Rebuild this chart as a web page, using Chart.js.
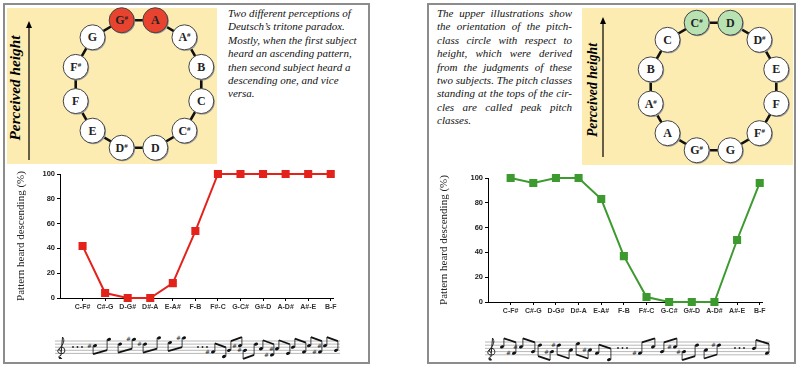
<!DOCTYPE html>
<html>
<head>
<meta charset="utf-8">
<script src="https://cdn.jsdelivr.net/npm/chart.js"></script>
<style>
  body { margin: 0; background: #fff; width: 800px; height: 370px; position: relative; overflow: hidden; font-family: "Liberation Serif", serif; }
  .panel { position: absolute; border: 2px solid #8c8c8c; background: #fff; box-sizing: border-box; }
  .txt { position: absolute; font-style: italic; font-size: 11px; line-height: 13.4px; color: #111; }
  .txt div { white-space: nowrap; }
  #txtR div { text-align: justify; text-align-last: justify; }
  #txtR div:last-child { text-align-last: left; }
  .chartbox { position: absolute; width: 340px; height: 150px; }
  #art { position: absolute; left: 0; top: 0; }
</style>
</head>
<body>
<div class="panel" style="left:3px;top:3px;width:367px;height:361px"></div>
<div class="panel" style="left:427px;top:3px;width:369px;height:361px"></div>
<svg id="art" width="800" height="370"></svg>
<div class="txt" id="txtL" style="left:228px;top:7px;width:140px"></div>
<div class="txt" id="txtR" style="left:437px;top:7px;width:135px"></div>
<div class="chartbox" style="left:6px;top:166px"><canvas id="chartL"></canvas></div>
<div class="chartbox" style="left:434px;top:170px"><canvas id="chartR"></canvas></div>

<script>
// data
const pairs = ['C-F#', 'C#-G', 'D-G#', 'D#-A', 'E-A#', 'F-B', 'F#-C', 'G-C#', 'G#-D', 'A-D#', 'A#-E', 'B-F'];
const heardLeft = [42, 4, 0, 0, 12, 54, 100, 100, 100, 100, 100, 100];
const heardRight = [100, 96, 100, 100, 83, 37, 4, 0, 0, 0, 50, 96];
const yTicks = [0, 20, 40, 60, 80, 100];
const yTitle = 'Pattern heard descending (%)';

// pitch class circles, clockwise from top-left
const circleLeft = ['G#', 'A', 'A#', 'B', 'C', 'C#', 'D', 'D#', 'E', 'F', 'F#', 'G'];
const circleRight = ['C#', 'D', 'D#', 'E', 'F', 'F#', 'G', 'G#', 'A', 'A#', 'B', 'C'];
const peakLeft = ['G#', 'A'];
const peakRight = ['C#', 'D'];

const textLeft = ['Two different perceptions of', 'Deutsch\u2019s tritone paradox.', 'Mostly, when the first subject',
  'heard an ascending pattern,', 'then second subject heard a', 'descending one, and vice', 'versa.'];
const textRight = ['The upper illustrations show', 'the orientation of the pitch-', 'class circle with respect to',
  'height, which were derived', 'from the judgments of these', 'two subjects. The pitch classes',
  'standing at the tops of the cir-', 'cles are called peak pitch', 'classes.'];

document.getElementById('txtL').innerHTML = textLeft.map(t => '<div>' + t + '</div>').join('');
document.getElementById('txtR').innerHTML = textRight.map(t => '<div>' + t + '</div>').join('');

// ---------- illustrations ----------
const out = [];

function pitchCircle(names, peaks, peakColor, cx, cy, box, arrowX, arrowTop, arrowBottom, lblX, lblY, lblLen) {
  out.push(`<rect x="${box[0]}" y="${box[1]}" width="${box[2]}" height="${box[3]}" fill="#fcecb2"/>`);
  // arrow
  out.push(`<line x1="${arrowX}" y1="${arrowBottom}" x2="${arrowX}" y2="${arrowTop + 5}" stroke="#000" stroke-width="1.2"/>`);
  out.push(`<polygon points="${arrowX - 3},${arrowTop + 7} ${arrowX},${arrowTop} ${arrowX + 3},${arrowTop + 7}" fill="#000"/>`);
  out.push(`<text transform="translate(${lblX},${lblY}) rotate(-90)" text-anchor="middle" font-family="Liberation Serif" font-style="italic" font-weight="bold" font-size="15" textLength="${lblLen}" lengthAdjust="spacingAndGlyphs" dy="5">Perceived height</text>`);
  const pts = names.map((n, i) => {
    const a = (-15 + 30 * i) * Math.PI / 180;
    return [cx + 65 * Math.sin(a), cy - 66 * Math.cos(a)];
  });
  out.push(`<polygon points="${pts.map(p => p.join(',')).join(' ')}" fill="none" stroke="#111" stroke-width="2.6"/>`);
  names.forEach((n, i) => {
    const [x, y] = pts[i];
    const fill = peaks.includes(n) ? peakColor : '#fff';
    out.push(`<circle cx="${x + 1}" cy="${y + 1}" r="12.5" fill="#9a9a9a"/>`);
    out.push(`<circle cx="${x}" cy="${y}" r="12.5" fill="${fill}" stroke="#444" stroke-width="1"/>`);
    let label = n[0];
    if (n.length > 1) label += '<tspan font-size="7" dy="-4">#</tspan>';
    out.push(`<text x="${x}" y="${y + 4}" text-anchor="middle" font-family="Liberation Serif" font-weight="bold" font-size="12" fill="#222">${label}</text>`);
  });
}

pitchCircle(circleLeft, peakLeft, '#e8432f', 138.5, 84, [7, 8, 210, 156], 29, 21, 160, 15, 88, 105);
pitchCircle(circleRight, peakRight, '#b9e2b3', 713.5, 86.5, [582, 8, 211, 157], 603, 17, 157, 592, 90, 94);

// ---------- music notation ----------
function stepOf(l) { return 'CDEFGAB'.indexOf(l); }

function drawStaff(x0, x1, top, sp) {
  for (let k = 0; k < 5; k++) {
    out.push(`<line x1="${x0}" y1="${top + k * sp}" x2="${x1}" y2="${top + k * sp}" stroke="#9a9a9a" stroke-width="0.7"/>`);
  }
  // simple treble clef
  const x = x0 + 6, b = top + 4 * sp;
  out.push(`<path d="M${x + 1},${b + 5} C${x - 3},${b + 6} ${x - 3},${b + 2} ${x},${b + 2} L${x + 1.5},${top - 4} C${x + 4},${top - 1} ${x + 3},${top + sp} ${x - 2},${top + 2.5 * sp} C${x - 5},${top + 3.5 * sp} ${x - 2},${b + 1} ${x + 2},${b} C${x + 5},${b - 1} ${x + 4},${top + 2 * sp} ${x + 1},${top + 2 * sp} C${x - 2},${top + 2 * sp} ${x - 2},${top + 3.2 * sp} ${x},${top + 3.3 * sp}" fill="none" stroke="#222" stroke-width="1"/>`);
  out.push(`<circle cx="${x - 1}" cy="${b + 4.5}" r="1.2" fill="#222"/>`);
}

function drawDots(x, y, n) {
  for (let k = 0; k < n; k++) out.push(`<circle cx="${x + k * 4.5}" cy="${y}" r="0.9" fill="#222"/>`);
}

function drawPair(name, up, xa, xb, top, sp) {
  const [a, b] = name.split('-');
  const la = stepOf(a[0]), lb = stepOf(b[0]);
  let sa = la <= 2 ? la + 7 : la;
  let sb = up ? sa + ((lb - la + 7) % 7) : sa - ((la - lb + 7) % 7);
  const bottom = top + 4 * sp;
  const ya = bottom - (sa - 2) * sp / 2, yb = bottom - (sb - 2) * sp / 2;
  const down = (sa + sb) / 2 >= 6;
  const heads = [[xa, ya, a], [xb, yb, b]];
  heads.forEach(([x, y, n]) => {
    out.push(`<ellipse cx="${x}" cy="${y}" rx="2.1" ry="1.5" transform="rotate(-20 ${x} ${y})" fill="#111"/>`);
    if (n.length > 1) out.push(`<text x="${x - 5.5}" y="${y + 2}" font-family="DejaVu Sans" font-size="6" text-anchor="middle" fill="#222">#</text>`);
  });
  let e1, e2, sx1, sx2;
  const len = 8.5;
  if (down) {
    sx1 = xa - 1.9; sx2 = xb - 1.9;
    e1 = ya + len; e2 = yb + len;
    const m = Math.max(e1, e2); e1 = Math.max(e1, m - 4); e2 = Math.max(e2, m - 4);
  } else {
    sx1 = xa + 1.9; sx2 = xb + 1.9;
    e1 = ya - len; e2 = yb - len;
    const m = Math.min(e1, e2); e1 = Math.min(e1, m + 4); e2 = Math.min(e2, m + 4);
  }
  out.push(`<line x1="${sx1}" y1="${ya}" x2="${sx1}" y2="${e1}" stroke="#111" stroke-width="0.8"/>`);
  out.push(`<line x1="${sx2}" y1="${yb}" x2="${sx2}" y2="${e2}" stroke="#111" stroke-width="0.8"/>`);
  out.push(`<line x1="${sx1}" y1="${e1}" x2="${sx2}" y2="${e2}" stroke="#111" stroke-width="1.8"/>`);
}

function drawGroup(list, up, x0, pitch, gap, top, sp) {
  list.forEach((p, i) => drawPair(p, up[i], x0 + i * pitch, x0 + i * pitch + gap, top, sp));
}

// left score
drawStaff(55, 340, 341, 3.1);
drawDots(73, 347, 3);
drawGroup(['C#-G', 'D-G#', 'D#-A', 'E-A#'], [1, 1, 1, 1], 95, 25, 14, 341, 3.1);
drawDots(198, 347, 3);
drawGroup(['F#-C', 'G-C#', 'G#-D', 'A-D#', 'A#-E', 'B-F', 'C-F#', 'C#-G'], [0, 1, 1, 0, 0, 0, 0, 0], 213, 16, 11, 341, 3.1);

// right score
drawStaff(485, 770, 342, 3.2);
drawGroup(['C-F#', 'C#-G', 'D-G#', 'D#-A', 'E-A#', 'F-B'], [0, 0, 0, 0, 0, 0], 502, 19, 12, 342, 3.2);
drawDots(618, 348, 3);
drawGroup(['F#-C', 'G-C#', 'G#-D', 'A-D#'], [1, 1, 1, 1], 640, 22, 13, 342, 3.2);
drawDots(735, 348, 3);
drawGroup(['B-F'], [0], 754, 20, 13, 342, 3.2);

document.getElementById('art').innerHTML = out.join('');

// ---------- charts ----------
function makeChart(id, values, color, titlePad, padRight) {
  return new Chart(document.getElementById(id), {
    type: 'line',
    data: {
      datasets: [{
        data: values.map((v, i) => ({ x: i, y: v })),
        borderColor: color,
        backgroundColor: color,
        borderWidth: 2,
        pointStyle: 'rect',
        pointRadius: 4.3,
        pointHoverRadius: 4.3,
        tension: 0,
        clip: false
      }]
    },
    options: {
      responsive: true,
      maintainAspectRatio: false,
      animation: false,
      events: [],
      layout: { padding: { top: 8, right: padRight, left: 0, bottom: 0 } },
      plugins: { legend: { display: false }, tooltip: { enabled: false } },
      scales: {
        x: {
          type: 'linear', min: -1, max: 11.1,
          afterBuildTicks: a => { a.ticks = pairs.map((p, i) => ({ value: i })); },
          afterFit: a => { a.height = 18; },
          ticks: {
            callback: v => pairs[v],
            font: { family: 'Liberation Sans', size: 7, weight: 'bold' },
            color: '#333', padding: 2, maxRotation: 0, autoSkip: false
          },
          grid: { drawOnChartArea: false, tickLength: 3, color: '#000' },
          border: { color: '#000', width: 1 }
        },
        y: {
          min: 0, max: 100,
          afterBuildTicks: a => { a.ticks = yTicks.map(v => ({ value: v })); },
          afterFit: a => { a.width = 54; },
          ticks: {
            font: { family: 'Liberation Sans', size: 7.5, weight: 'bold' },
            color: '#222', padding: 2
          },
          grid: { drawOnChartArea: false, tickLength: 3, color: '#000' },
          border: { color: '#000', width: 1 },
          title: {
            display: true, text: yTitle, color: '#222',
            font: { family: 'Liberation Serif', size: 11 },
            padding: { top: titlePad, bottom: 0 }
          }
        }
      }
    }
  });
}

makeChart('chartL', heardLeft, '#e3231b', 9, 13);
makeChart('chartR', heardRight, '#3d9a2f', 4, 12);
</script>
</body>
</html>
